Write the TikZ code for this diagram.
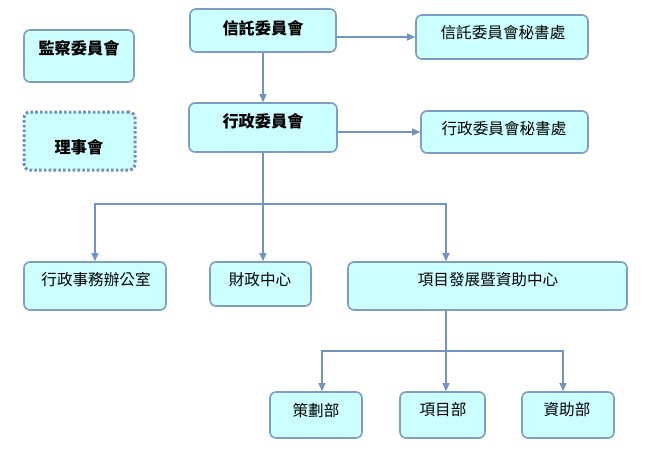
\documentclass[tikz,border=0pt]{standalone}
\usepackage{fontspec}
\newfontfamily\cjk{Noto Sans CJK TC}
\usetikzlibrary{arrows.meta}
\definecolor{boxfill}{HTML}{CCFFFF}
\definecolor{boxline}{HTML}{7E9CC4}
\definecolor{dotline}{HTML}{6F8FB8}
\definecolor{conn}{HTML}{7393C2}
\begin{document}
\begin{tikzpicture}[x=1pt,y=-1pt,
  box/.style={draw=boxline,line width=1.6pt,fill=boxfill,rounded corners=6pt,inner sep=0pt},
  dotbox/.style={box,draw=dotline,dash pattern=on 2.6pt off 2.2pt,line width=3pt},
  txt/.style={inner sep=0pt,font=\cjk\fontsize{15.6pt}{17pt}\selectfont},
  btxt/.style={inner sep=0pt,font=\cjk\bfseries\fontsize{16.2pt}{18pt}\selectfont},
  arr/.style={draw=conn,line width=1.3pt,-{Triangle[length=8pt,width=7pt]}},
  ln/.style={draw=conn,line width=1.3pt}]
\useasboundingbox[fill=white] (0,0) rectangle (647,459);
% boxes
\node[box,minimum width=110pt,minimum height=52pt] (jc) at (79,56) {};
\node[dotbox,minimum width=111pt,minimum height=58pt] (ls) at (79.5,141) {};
\node[box,minimum width=146pt,minimum height=43pt] (xt) at (263,30.5) {};
\node[box,minimum width=148pt,minimum height=49pt] (xz) at (263,127.5) {};
\node[box,minimum width=172pt,minimum height=44pt] (xts) at (502,37) {};
\node[box,minimum width=167pt,minimum height=42pt] (xzs) at (504.5,132) {};
\node[box,minimum width=142pt,minimum height=48pt] (o1) at (95,286) {};
\node[box,minimum width=101pt,minimum height=44pt] (o2) at (260.5,284) {};
\node[box,minimum width=279pt,minimum height=48pt] (o3) at (487.5,286) {};
\node[box,minimum width=92pt,minimum height=46pt] (p1) at (316,415) {};
\node[box,minimum width=85pt,minimum height=46pt] (p2) at (442.5,415) {};
\node[box,minimum width=92pt,minimum height=46pt] (p3) at (568,415) {};
% texts
\node[btxt] (tjc) at (79,48) {監察委員會};
\node[btxt] (tls) at (79,147) {理事會};
\node[btxt] (txt) at (263,28) {信託委員會};
\node[btxt] (txz) at (263,121) {行政委員會};
\node[txt] (txts) at (503,33) {信託委員會秘書處};
\node[txt] (txzs) at (504,129) {行政委員會秘書處};
\node[txt] (to1) at (96,280) {行政事務辦公室};
\node[txt] (to2) at (260,280) {財政中心};
\node[txt] (to3) at (488,280) {項目發展暨資助中心};
\node[txt] (tp1) at (316,410) {策劃部};
\node[txt] (tp2) at (443,410) {項目部};
\node[txt] (tp3) at (567,410) {資助部};
% connectors
\coordinate (bus1) at (263,204);
\coordinate (top3) at ([xshift=-41.5pt]o3.north);
\coordinate (bot3) at ([xshift=-41.5pt]o3.south);
\coordinate (bus2) at (446,351);
\draw[arr] (xt.east |- xts.west) -- (xts.west);
\draw[arr] (xz.east |- xzs.west) -- (xzs.west);
\draw[arr] (xt.south) -- (xz.north);
\draw[arr] (xz.south) -- (xz.south |- o2.north);
\draw[arr] (bus1) -| (o1.north);
\draw[arr] (bus1) -| (top3);
\draw[arr] (bot3) -- (bot3 |- p2.north);
\draw[arr] (bus2) -| ([xshift=6pt]p1.north);
\draw[arr] (bus2) -| ([xshift=-5pt]p3.north);
\end{tikzpicture}
\end{document}
